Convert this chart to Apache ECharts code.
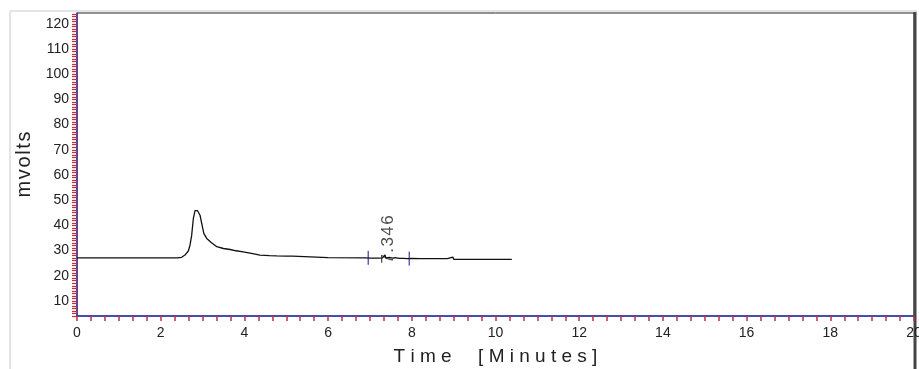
<!DOCTYPE html>
<html>
<head>
<meta charset="utf-8">
<script src="https://cdn.jsdelivr.net/npm/echarts@6/dist/echarts.min.js"></script>
<style>
  html, body { margin: 0; padding: 0; background: #fff; }
  #chart { width: 919px; height: 369px; }
</style>
</head>
<body>
<div id="chart"></div>
<script>
// chromatogram trace
const timeMin = [0, 2.40, 2.50, 2.58, 2.66, 2.70, 2.74, 2.78, 2.82, 2.84, 2.88, 2.94, 2.99, 3.03, 3.10, 3.20,
  3.34, 3.50, 3.66, 3.80, 3.97, 4.20, 4.37, 4.60, 4.77, 5.00, 5.15, 5.16, 6.00, 6.90, 7.00, 7.20, 7.30,
  7.34, 7.36, 7.38, 7.42, 7.46, 7.50, 7.55, 7.60, 7.70, 7.80, 7.90, 8.00, 8.20, 8.50, 8.85, 8.88, 8.98,
  9.00, 9.50, 10.00, 10.39]
const mvolts = [27.1, 27.1, 27.3, 28.2, 29.8, 32.1, 36.0, 42.7, 45.8, 46.4, 45.8, 44.0, 40.0, 36.8, 34.8, 33.3,
  31.5, 30.8, 30.4, 29.9, 29.5, 28.8, 28.2, 28.0, 27.9, 27.8, 27.8, 27.2, 27.2, 27.1, 27.0, 27.0, 27.1,
  27.6, 28.2, 27.0, 26.6, 27.3, 27.4, 27.0, 27.2, 26.9, 26.9, 26.8, 26.9, 26.8, 26.8, 26.8, 27.4, 27.4,
  26.5, 26.5, 26.5, 26.5]

// integration marks and peak label
const markTimes = [6.96, 7.94]
const markValues = [27.1, 26.8]
const peakName = '7.346'
const peakLabelAt = [7.45, 24.8]

const xLabels = [0, 2, 4, 6, 8, 10, 12, 14, 16, 18, 20]
const yLabels = [10, 20, 30, 40, 50, 60, 70, 80, 90, 100, 110, 120]

const xTicks = []
for (let i = 0; i <= 60; i++) xTicks.push(i / 3)
const yTicks = []
for (let v = 4; v <= 124; v++) yTicks.push(v)

const axisBlue = '#3434b0'
const tickRed = '#c03040'
const font = 'Liberation Sans, Arial, sans-serif'
// spread letters a little like the original software does
const spaced = (s, gap) => s.split('').join(gap)

const chart = echarts.init(document.getElementById('chart'))
chart.setOption({
  animation: false,
  backgroundColor: '#fff',
  grid: {
    left: 77, right: 5, top: 13, bottom: 53,
    outerBoundsMode: 'none',
    show: true, borderColor: '#222', borderWidth: 1
  },
  xAxis: {
    type: 'value',
    min: 0, max: 20,
    name: spaced('Time', ' ') + '     ' + spaced('[Minutes]', ' '),
    nameLocation: 'middle',
    nameGap: 31,
    nameTextStyle: { fontSize: 19, color: '#222', fontFamily: font },
    splitLine: { show: false },
    axisLine: { lineStyle: { color: axisBlue, width: 1.5 } },
    axisTick: { customValues: xTicks, length: 5, lineStyle: { color: tickRed, width: 1.5 } },
    axisLabel: { customValues: xLabels, margin: 10, fontSize: 14, color: '#222', fontFamily: font }
  },
  yAxis: {
    type: 'value',
    min: 4, max: 124.3,
    name: spaced('mvolts', '\u200a'),
    nameLocation: 'middle',
    nameGap: 42,
    nameTextStyle: { fontSize: 20, color: '#222', fontFamily: font },
    splitLine: { show: false },
    axisLine: { lineStyle: { color: axisBlue, width: 1.5 } },
    axisTick: { customValues: yTicks, length: 5, lineStyle: { color: tickRed, width: 1.2 } },
    axisLabel: { customValues: yLabels, margin: 8, fontSize: 14, color: '#222', fontFamily: font }
  },
  graphic: [
    { type: 'line', shape: { x1: 10, y1: 11, x2: 10, y2: 369 }, style: { stroke: '#e4e4e4', lineWidth: 2 } },
    { type: 'line', shape: { x1: 10, y1: 11, x2: 917, y2: 11 }, style: { stroke: '#e4e4e4', lineWidth: 2 } },
    { type: 'line', shape: { x1: 915, y1: 12, x2: 915, y2: 369 }, style: { stroke: '#444', lineWidth: 3 } }
  ],
  series: [
    {
      type: 'line',
      data: timeMin.map((t, i) => [t, mvolts[i]]),
      showSymbol: false,
      lineStyle: { color: '#111', width: 1.3 }
    },
    {
      type: 'scatter',
      data: markTimes.map((t, i) => [t, markValues[i]]),
      symbol: 'rect',
      symbolSize: [1.5, 14],
      itemStyle: { color: axisBlue }
    },
    {
      type: 'scatter',
      data: [peakLabelAt],
      symbolSize: 0,
      label: {
        show: true,
        formatter: spaced(peakName, '\u200a'),
        position: 'inside',
        rotate: 90,
        align: 'left',
        verticalAlign: 'middle',
        fontSize: 17,
        color: '#222',
        fontFamily: font
      }
    }
  ]
})
</script>
</body>
</html>
